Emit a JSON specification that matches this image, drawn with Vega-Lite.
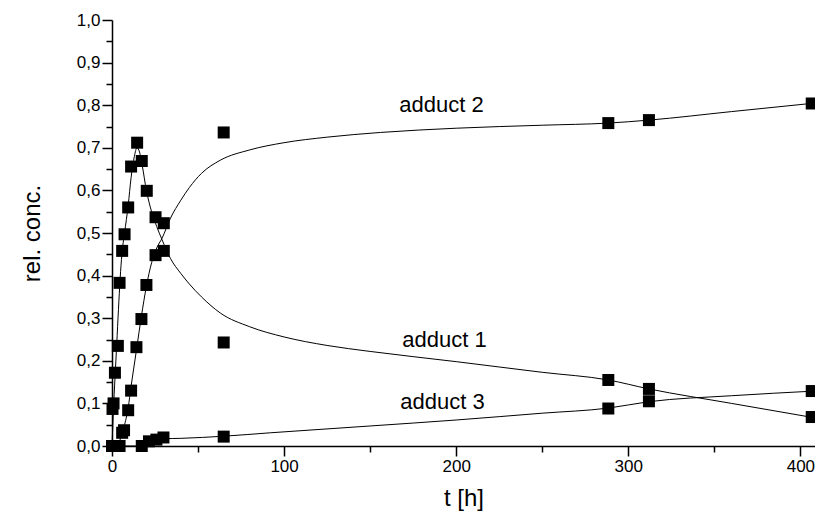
{
  "$schema": "https://vega.github.io/schema/vega-lite/v6.json",
  "width": 703,
  "height": 426,
  "autosize": "none",
  "padding": {"left": 112, "top": 20, "right": 0, "bottom": 75},
  "background": "white",
  "config": {
    "view": {"stroke": null},
    "font": "Liberation Sans",
    "axis": {
      "domainColor": "black",
      "domainWidth": 1.5,
      "tickColor": "black",
      "tickWidth": 1.5,
      "labelColor": "black",
      "labelFont": "Liberation Sans",
      "labelFontSize": 17,
      "labelFlush": false,
      "labelOverlap": false,
      "titleFont": "Liberation Sans",
      "titleFontSize": 24,
      "titleFontWeight": "normal",
      "titleColor": "black",
      "grid": false
    }
  },
  "datasets": {
    "points": [
      {"series": "adduct 1", "t": 0, "value": 0},
      {"series": "adduct 1", "t": 0.3, "value": 0.087},
      {"series": "adduct 1", "t": 0.9, "value": 0.1},
      {"series": "adduct 1", "t": 1.7, "value": 0.172},
      {"series": "adduct 1", "t": 3.4, "value": 0.235},
      {"series": "adduct 1", "t": 4.4, "value": 0.383},
      {"series": "adduct 1", "t": 5.9, "value": 0.458},
      {"series": "adduct 1", "t": 7.3, "value": 0.497},
      {"series": "adduct 1", "t": 9.4, "value": 0.56},
      {"series": "adduct 1", "t": 11.1, "value": 0.656},
      {"series": "adduct 1", "t": 14.6, "value": 0.712},
      {"series": "adduct 1", "t": 17.3, "value": 0.669},
      {"series": "adduct 1", "t": 20.2, "value": 0.599},
      {"series": "adduct 1", "t": 25.3, "value": 0.537},
      {"series": "adduct 1", "t": 30.1, "value": 0.523},
      {"series": "adduct 1", "t": 64.9, "value": 0.243},
      {"series": "adduct 1", "t": 288.4, "value": 0.155},
      {"series": "adduct 1", "t": 312, "value": 0.134},
      {"series": "adduct 1", "t": 406.6, "value": 0.068},
      {"series": "adduct 2", "t": 0, "value": 0},
      {"series": "adduct 2", "t": 1.7, "value": 0},
      {"series": "adduct 2", "t": 4.4, "value": 0},
      {"series": "adduct 2", "t": 5.9, "value": 0.031},
      {"series": "adduct 2", "t": 7.0, "value": 0.037},
      {"series": "adduct 2", "t": 9.4, "value": 0.084},
      {"series": "adduct 2", "t": 11.1, "value": 0.13},
      {"series": "adduct 2", "t": 14.2, "value": 0.232},
      {"series": "adduct 2", "t": 17.1, "value": 0.298},
      {"series": "adduct 2", "t": 20.0, "value": 0.378},
      {"series": "adduct 2", "t": 25.3, "value": 0.448},
      {"series": "adduct 2", "t": 30.1, "value": 0.458},
      {"series": "adduct 2", "t": 64.9, "value": 0.736},
      {"series": "adduct 2", "t": 288.4, "value": 0.758},
      {"series": "adduct 2", "t": 312, "value": 0.765},
      {"series": "adduct 2", "t": 406.6, "value": 0.804},
      {"series": "adduct 3", "t": 0, "value": 0},
      {"series": "adduct 3", "t": 17.3, "value": 0},
      {"series": "adduct 3", "t": 21.5, "value": 0.011},
      {"series": "adduct 3", "t": 25.8, "value": 0.015},
      {"series": "adduct 3", "t": 29.9, "value": 0.02},
      {"series": "adduct 3", "t": 64.9, "value": 0.022},
      {"series": "adduct 3", "t": 288.4, "value": 0.088},
      {"series": "adduct 3", "t": 312, "value": 0.105},
      {"series": "adduct 3", "t": 406.6, "value": 0.129}
    ],
    "curves": [
      {"series": "adduct 1", "t": 0, "value": 0},
      {"series": "adduct 1", "t": 1, "value": 0.1},
      {"series": "adduct 1", "t": 2, "value": 0.18},
      {"series": "adduct 1", "t": 3, "value": 0.26},
      {"series": "adduct 1", "t": 4, "value": 0.34},
      {"series": "adduct 1", "t": 5, "value": 0.41},
      {"series": "adduct 1", "t": 6, "value": 0.46},
      {"series": "adduct 1", "t": 7.3, "value": 0.5},
      {"series": "adduct 1", "t": 9.4, "value": 0.565},
      {"series": "adduct 1", "t": 11.1, "value": 0.63},
      {"series": "adduct 1", "t": 13, "value": 0.68},
      {"series": "adduct 1", "t": 14.5, "value": 0.7},
      {"series": "adduct 1", "t": 16, "value": 0.69},
      {"series": "adduct 1", "t": 17.5, "value": 0.66},
      {"series": "adduct 1", "t": 20, "value": 0.6},
      {"series": "adduct 1", "t": 23, "value": 0.55},
      {"series": "adduct 1", "t": 26, "value": 0.515},
      {"series": "adduct 1", "t": 29, "value": 0.485},
      {"series": "adduct 1", "t": 34, "value": 0.44},
      {"series": "adduct 1", "t": 40, "value": 0.405},
      {"series": "adduct 1", "t": 45, "value": 0.38},
      {"series": "adduct 1", "t": 52, "value": 0.35},
      {"series": "adduct 1", "t": 63, "value": 0.312},
      {"series": "adduct 1", "t": 80, "value": 0.28},
      {"series": "adduct 1", "t": 100, "value": 0.256},
      {"series": "adduct 1", "t": 125, "value": 0.236},
      {"series": "adduct 1", "t": 150, "value": 0.222},
      {"series": "adduct 1", "t": 200, "value": 0.198},
      {"series": "adduct 1", "t": 250, "value": 0.173},
      {"series": "adduct 1", "t": 288.4, "value": 0.155},
      {"series": "adduct 1", "t": 312, "value": 0.134},
      {"series": "adduct 1", "t": 360, "value": 0.1},
      {"series": "adduct 1", "t": 408.5, "value": 0.066},
      {"series": "adduct 2", "t": 0, "value": 0},
      {"series": "adduct 2", "t": 3, "value": 0.002},
      {"series": "adduct 2", "t": 5, "value": 0.018},
      {"series": "adduct 2", "t": 7, "value": 0.045},
      {"series": "adduct 2", "t": 9.4, "value": 0.09},
      {"series": "adduct 2", "t": 11.1, "value": 0.14},
      {"series": "adduct 2", "t": 14.2, "value": 0.225},
      {"series": "adduct 2", "t": 17.1, "value": 0.305},
      {"series": "adduct 2", "t": 20, "value": 0.375},
      {"series": "adduct 2", "t": 23, "value": 0.43},
      {"series": "adduct 2", "t": 26, "value": 0.465},
      {"series": "adduct 2", "t": 29, "value": 0.487},
      {"series": "adduct 2", "t": 34, "value": 0.535},
      {"series": "adduct 2", "t": 40, "value": 0.577},
      {"series": "adduct 2", "t": 45, "value": 0.607},
      {"series": "adduct 2", "t": 52, "value": 0.64},
      {"series": "adduct 2", "t": 63, "value": 0.671},
      {"series": "adduct 2", "t": 80, "value": 0.695},
      {"series": "adduct 2", "t": 100, "value": 0.712},
      {"series": "adduct 2", "t": 125, "value": 0.725},
      {"series": "adduct 2", "t": 156, "value": 0.736},
      {"series": "adduct 2", "t": 200, "value": 0.746},
      {"series": "adduct 2", "t": 250, "value": 0.753},
      {"series": "adduct 2", "t": 288.4, "value": 0.758},
      {"series": "adduct 2", "t": 312, "value": 0.765},
      {"series": "adduct 2", "t": 360, "value": 0.785},
      {"series": "adduct 2", "t": 408.5, "value": 0.805},
      {"series": "adduct 3", "t": 0, "value": 0},
      {"series": "adduct 3", "t": 15, "value": 0},
      {"series": "adduct 3", "t": 17.3, "value": 0.003},
      {"series": "adduct 3", "t": 21, "value": 0.01},
      {"series": "adduct 3", "t": 25.5, "value": 0.015},
      {"series": "adduct 3", "t": 30, "value": 0.017},
      {"series": "adduct 3", "t": 40, "value": 0.018},
      {"series": "adduct 3", "t": 65, "value": 0.023},
      {"series": "adduct 3", "t": 92, "value": 0.031},
      {"series": "adduct 3", "t": 150, "value": 0.047},
      {"series": "adduct 3", "t": 200, "value": 0.061},
      {"series": "adduct 3", "t": 250, "value": 0.077},
      {"series": "adduct 3", "t": 288.4, "value": 0.089},
      {"series": "adduct 3", "t": 312, "value": 0.104},
      {"series": "adduct 3", "t": 360, "value": 0.118},
      {"series": "adduct 3", "t": 408.5, "value": 0.129}
    ],
    "labels": [
      {"label": "adduct 2", "t": 191.5, "value": 0.785},
      {"label": "adduct 1", "t": 193.2, "value": 0.232},
      {"label": "adduct 3", "t": 192, "value": 0.086}
    ]
  },
  "resolve": {"axis": {"x": "independent", "y": "independent"}},
  "layer": [
    {
      "data": {"name": "curves"},
      "mark": {"type": "line", "interpolate": "monotone", "color": "black", "strokeWidth": 1},
      "encoding": {
        "x": {
          "field": "t",
          "type": "quantitative",
          "scale": {"domain": [0, 408.5], "nice": false, "zero": false},
          "axis": {
            "orient": "bottom",
            "title": "t [h]",
            "values": [0, 100, 200, 300, 400],
            "tickSize": 10,
            "labelPadding": 2,
            "titlePadding": 12
          }
        },
        "y": {
          "field": "value",
          "type": "quantitative",
          "scale": {"domain": [0, 1], "nice": false},
          "axis": {
            "orient": "left",
            "title": "rel. conc.",
            "values": [0, 0.1, 0.2, 0.3, 0.4, 0.5, 0.6, 0.7, 0.8, 0.9, 1.0],
            "labelExpr": "replace(format(datum.value, '.1f'), '.', ',')",
            "tickSize": 10,
            "labelPadding": 2,
            "titlePadding": 32
          }
        },
        "detail": {"field": "series"}
      }
    },
    {
      "data": {"name": "points"},
      "mark": {"type": "point", "shape": "square", "filled": true, "color": "black", "size": 144, "opacity": 1, "strokeWidth": 0},
      "encoding": {
        "x": {
          "field": "t",
          "type": "quantitative",
          "axis": {
            "orient": "bottom",
            "title": null,
            "values": [50, 150, 250, 350],
            "labels": false,
            "domain": false,
            "tickSize": 6
          }
        },
        "y": {
          "field": "value",
          "type": "quantitative",
          "axis": {
            "orient": "left",
            "title": null,
            "values": [0.05, 0.15, 0.25, 0.35, 0.45, 0.55, 0.65, 0.75, 0.85, 0.95],
            "labels": false,
            "domain": false,
            "tickSize": 6
          }
        }
      }
    },
    {
      "data": {"name": "labels"},
      "mark": {"type": "text", "fontSize": 22, "align": "center", "baseline": "alphabetic", "color": "black", "font": "Liberation Sans"},
      "encoding": {
        "x": {"field": "t", "type": "quantitative", "axis": null},
        "y": {"field": "value", "type": "quantitative", "axis": null},
        "text": {"field": "label"}
      }
    }
  ]
}
